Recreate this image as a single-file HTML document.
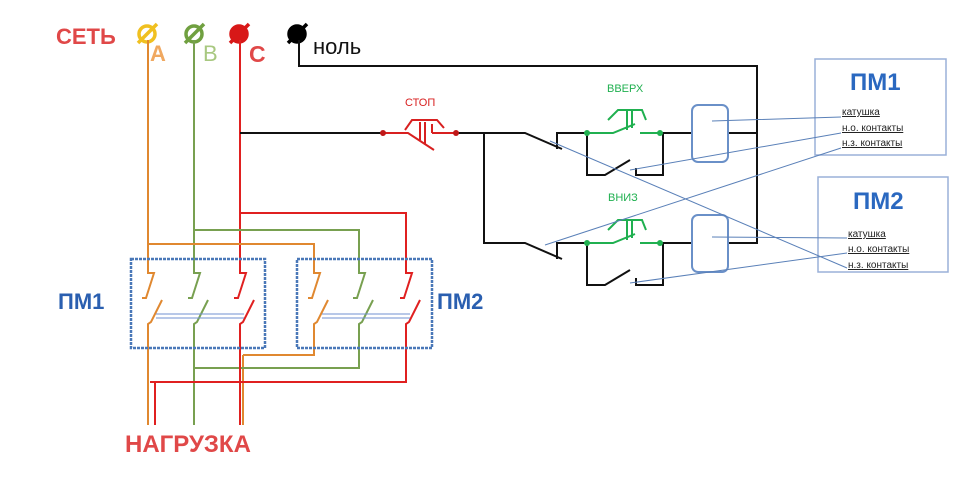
<!DOCTYPE html>
<html><head><meta charset="utf-8"><style>
body{margin:0;background:#fff}
svg{display:block}
text{font-family:"Liberation Sans",sans-serif}
</style></head><body>
<svg width="979" height="483" viewBox="0 0 979 483" xmlns="http://www.w3.org/2000/svg">
<defs>
<g id="ct" fill="none" stroke-width="2">
<path d="M0,262 V273 H6 L-2,298 H-6"/>
<path d="M14,300 L3,322 L0,324 V349"/>
</g>
</defs>
<!-- top labels -->
<text x="56" y="44" font-size="22" font-weight="bold" fill="#e04848">СЕТЬ</text>
<text x="150" y="61" font-size="22" font-weight="bold" fill="#f0a860">A</text>
<text x="203" y="61" font-size="22" fill="#a8c880">B</text>
<text x="249" y="62" font-size="23" font-weight="bold" fill="#e04848">C</text>
<text x="313" y="54" font-size="22" fill="#111">ноль</text>
<!-- terminals -->
<g stroke-width="3.5" fill="none">
<circle cx="147" cy="34" r="8" stroke="#f0c020"/><line x1="138" y1="43" x2="157" y2="24" stroke="#f0c020"/>
<circle cx="194" cy="34" r="8" stroke="#70a040"/><line x1="185" y1="43" x2="204" y2="24" stroke="#70a040"/>
<circle cx="239" cy="34" r="8" stroke="#d81818" fill="#d81818"/><line x1="230" y1="43" x2="249" y2="24" stroke="#d81818"/>
<circle cx="297" cy="34" r="8" stroke="#000" fill="#000"/><line x1="288" y1="43" x2="307" y2="24" stroke="#000"/>
</g>
<!-- phase lines -->
<g fill="none" stroke-width="2">
<path d="M148,40 V262" stroke="#e08830"/>
<path d="M194,40 V262" stroke="#78a050"/>
<path d="M240,40 V262" stroke="#e02020"/>
<path d="M148,244 H314 V262" stroke="#e08830"/>
<path d="M194,230 H359 V262" stroke="#78a050"/>
<path d="M240,213 H406 V262" stroke="#e02020"/>
<path d="M148,349 V425 M243,355 V425 M314,349 V355 H243" stroke="#e08830"/>
<path d="M194,349 V425 M359,349 V368 H194" stroke="#78a050"/>
<path d="M240,349 V425 M155,382 V425 M406,349 V382 H150" stroke="#e02020"/>
</g>
<use href="#ct" x="148" stroke="#e08830"/>
<use href="#ct" x="194" stroke="#78a050"/>
<use href="#ct" x="240" stroke="#e02020"/>
<use href="#ct" x="314" stroke="#e08830"/>
<use href="#ct" x="359" stroke="#78a050"/>
<use href="#ct" x="406" stroke="#e02020"/>
<g stroke="#7090d0" stroke-width="1">
<path d="M156,314 H244 M156,318 H244 M322,314 H410 M322,318 H410"/>
</g>
<g fill="none" stroke="#4a78b8" stroke-width="2.5" stroke-dasharray="3,1">
<rect x="131" y="259" width="134" height="89"/>
<rect x="297" y="259" width="135" height="89"/>
</g>
<text x="58" y="309" font-size="22" font-weight="bold" fill="#2a5fb0">ПМ1</text>
<text x="437" y="309" font-size="22" font-weight="bold" fill="#2a5fb0">ПМ2</text>
<text x="125" y="452" font-size="24" font-weight="bold" fill="#e04848">НАГРУЗКА</text>
<!-- control -->
<g fill="none" stroke="#111" stroke-width="2">
<path d="M299,40 V66 H757 V243 H728 M728,133 H757"/>
<path d="M240,133 H383"/>
<path d="M456,133 H525 L562,149 M557,149 V133 H587"/>
<path d="M484,133 V243 H525 L562,259 M557,259 V243 H587"/>
<path d="M660,133 H692 M660,243 H692"/>
<path d="M587,133 V175 H605 L630,160 M636,168 V175 H663 V133"/>
<path d="M587,243 V285 H605 L630,270 M636,278 V285 H663 V243"/>
</g>
<!-- stop -->
<g fill="none" stroke="#d82020" stroke-width="2">
<path d="M383,133 H408 L434,150 M420,122 V140 M425,122 V144 M432,133 V124 M432,133 H456"/>
<path d="M405,130 L412,120 H437 L444,128"/>
</g>
<circle cx="383" cy="133" r="3" fill="#c01818"/><circle cx="456" cy="133" r="3" fill="#c01818"/>
<text x="405" y="106" font-size="11" fill="#d82020">СТОП</text>
<!-- green buttons -->
<g fill="none" stroke="#20b050" stroke-width="2">
<path d="M587,133 H613 L635,124 M632,128 V110 M627,130 V110 M640,133 H660 M608,120 L618,110 H642 L646,120"/>
<path d="M587,243 H613 L635,234 M632,238 V220 M627,240 V220 M640,243 H660 M608,230 L618,220 H642 L646,230"/>
</g>
<g fill="#20b050"><circle cx="587" cy="133" r="3"/><circle cx="660" cy="133" r="3"/><circle cx="587" cy="243" r="3"/><circle cx="660" cy="243" r="3"/></g>
<text x="607" y="92" font-size="11" fill="#20b050">ВВЕРХ</text>
<text x="608" y="201" font-size="11" fill="#20b050">ВНИЗ</text>
<!-- coils -->
<g fill="#fff" stroke="#6a90c8" stroke-width="2">
<rect x="692" y="105" width="36" height="57" rx="6"/>
<rect x="692" y="215" width="36" height="57" rx="6"/>
</g>
<!-- PM boxes -->
<g fill="none" stroke="#9ab0d8" stroke-width="1.5">
<rect x="815" y="59" width="131" height="96"/>
<rect x="818" y="177" width="130" height="95"/>
</g>
<text x="850" y="90" font-size="24" font-weight="bold" fill="#2a68c0">ПМ1</text>
<text x="853" y="209" font-size="24" font-weight="bold" fill="#2a68c0">ПМ2</text>
<g font-size="10" fill="#222" text-decoration="underline">
<text x="842" y="115">катушка</text>
<text x="842" y="131">н.о. контакты</text>
<text x="842" y="146">н.з. контакты</text>
<text x="848" y="237">катушка</text>
<text x="848" y="252">н.о. контакты</text>
<text x="848" y="268">н.з. контакты</text>
</g>
<g stroke="#5a80b8" stroke-width="1" fill="none">
<path d="M841,117 L712,121 M841,133 L630,170 M841,148 L545,245 M847,238 L712,237 M847,253 L630,283 M847,268 L550,141"/>
</g>
</svg>
</body></html>
